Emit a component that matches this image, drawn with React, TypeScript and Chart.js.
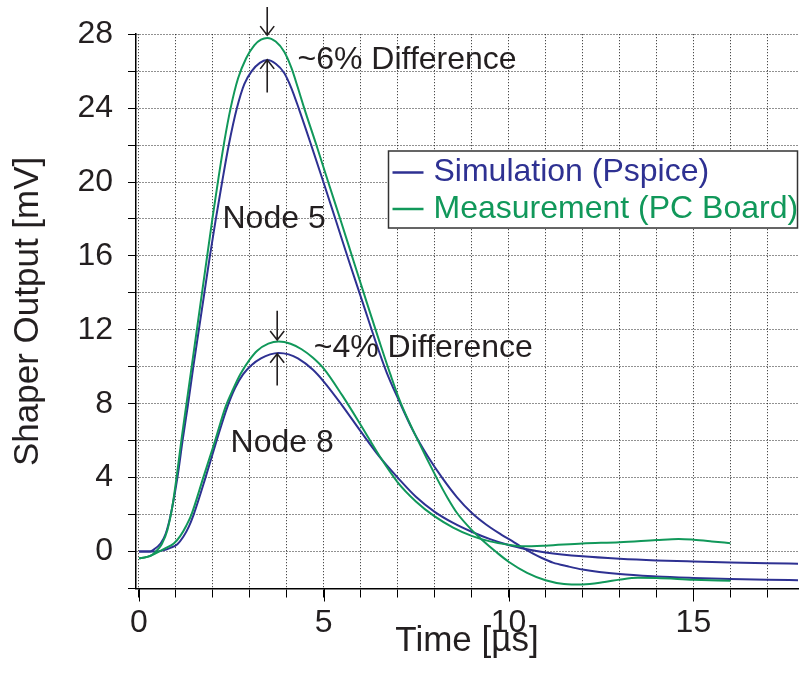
import React, { useEffect, useRef } from "react";
import { Chart, registerables } from "chart.js";

Chart.register(...registerables);

// ---------- data (time in µs, output in mV) ----------
const node5SimTime = [0, 0.3, 0.36, 0.59, 0.72, 0.86, 1.04, 1.18, 1.33, 1.47, 1.62, 1.77, 1.92, 2.08, 2.25, 2.43, 2.65, 2.85, 3.05, 3.27, 3.47, 3.7, 3.93, 4.12, 4.32, 4.66, 4.99, 5.33, 5.7, 6.05, 6.38, 6.7, 7.05, 7.4, 7.8, 8.2, 8.6, 9.0, 9.4, 9.8, 10.15, 10.4, 10.65, 10.9, 11.2, 11.6, 12.0, 13.0, 14.0, 15.0, 16.0, 17.0, 17.9];
const node5SimValue = [0, 0, 0.05, 0.45, 0.95, 2.0, 4.0, 6.0, 8.0, 10.0, 12.0, 14.0, 16.0, 18.0, 20.0, 22.0, 24.0, 25.3, 26.0, 26.45, 26.6, 26.4, 25.9, 25.1, 24.0, 22.0, 20.0, 17.9, 15.6, 13.5, 11.5, 9.7, 8.1, 6.6, 5.2, 4.0, 2.95, 2.1, 1.45, 0.92, 0.5, 0.18, -0.1, -0.35, -0.6, -0.8, -0.97, -1.22, -1.35, -1.43, -1.49, -1.53, -1.55];

const node5MeasTime = [0, 0.2, 0.36, 0.54, 0.63, 0.77, 0.9, 1.03, 1.16, 1.3, 1.44, 1.58, 1.72, 1.86, 2.0, 2.15, 2.31, 2.48, 2.68, 2.9, 3.12, 3.3, 3.47, 3.7, 3.93, 4.12, 4.3, 4.47, 4.8, 5.12, 5.46, 5.81, 6.16, 6.5, 6.8, 7.07, 7.55, 8.05, 8.35, 8.6, 9.0, 9.3, 9.65, 10.0, 10.5, 11.0, 11.5, 12.0, 12.6, 13.0, 13.5, 14.0, 15.0, 16.0];
const node5MeasValue = [-0.36, -0.3, -0.18, 0.18, 0.45, 1.17, 2.4, 4.2, 6.2, 8.2, 10.2, 12.2, 14.2, 16.2, 18.2, 20.2, 22.2, 24.0, 25.6, 26.7, 27.4, 27.7, 27.8, 27.6, 27.05, 26.2, 25.1, 24.0, 22.0, 20.0, 17.9, 15.7, 13.5, 11.4, 9.6, 8.1, 6.0, 4.0, 2.9, 2.1, 1.17, 0.6, 0.0, -0.55, -1.15, -1.55, -1.75, -1.78, -1.65, -1.52, -1.42, -1.43, -1.52, -1.58];

const node8SimTime = [0, 0.4, 0.63, 0.85, 1.04, 1.2, 1.35, 1.48, 1.8, 2.1, 2.39, 2.6, 2.82, 3.05, 3.3, 3.55, 3.78, 4.05, 4.3, 4.7, 5.0, 5.5, 6.0, 6.5, 7.0, 7.5, 8.0, 8.5, 9.0, 9.5, 10.0, 10.5, 11.0, 12.0, 13.0, 14.0, 15.0, 16.0, 17.0, 17.9];
const node8SimValue = [0, 0, 0.05, 0.2, 0.4, 0.8, 1.35, 2.0, 4.0, 6.0, 7.82, 8.85, 9.6, 10.1, 10.45, 10.67, 10.75, 10.67, 10.45, 9.85, 9.2, 7.9, 6.5, 5.15, 4.0, 2.95, 2.15, 1.55, 1.07, 0.67, 0.35, 0.12, -0.05, -0.26, -0.39, -0.48, -0.54, -0.59, -0.63, -0.66];

const node8MeasTime = [0, 0.2, 0.45, 0.72, 0.95, 1.12, 1.28, 1.42, 1.74, 2.06, 2.34, 2.55, 2.75, 3.0, 3.2, 3.5, 3.78, 4.1, 4.4, 4.7, 5.0, 5.5, 6.0, 6.5, 7.0, 7.5, 8.0, 8.5, 9.0, 9.5, 10.0, 10.4, 11.0, 12.0, 13.0, 14.0, 14.6, 15.0, 15.5, 16.0];
const node8MeasValue = [-0.36, -0.3, -0.1, 0.18, 0.45, 0.85, 1.4, 2.0, 4.0, 6.0, 7.82, 8.8, 9.62, 10.4, 10.87, 11.25, 11.37, 11.25, 10.95, 10.5, 9.9, 8.45, 6.85, 5.2, 3.75, 2.7, 1.9, 1.3, 0.85, 0.55, 0.37, 0.28, 0.32, 0.44, 0.5, 0.62, 0.68, 0.64, 0.55, 0.45];

const xTickValues = [0, 1, 2, 3, 4, 5, 6, 7, 8, 9, 10, 11, 12, 13, 14, 15, 16, 17];
const xLabelValues = [0, 5, 10, 15];
const yTickValues = [-2, 0, 2, 4, 6, 8, 10, 12, 14, 16, 18, 20, 22, 24, 26, 28];
const yLabelValues = [0, 4, 8, 12, 16, 20, 24, 28];

const legendLabels = ["Simulation (Pspice)", "Measurement (PC Board)"];

// annotations in data coordinates (time, value)
const annotationTexts = ["~6% Difference", "Node 5", "~4% Difference", "Node 8"];
const annotationTimes = [4.29, 2.26, 4.73, 2.48];
const annotationValues = [26.6, 18.0, 11.0, 5.84];
// arrows: time, tail value, tip value
const arrowTimes = [3.47, 3.47, 3.74, 3.74];
const arrowTails = [29.47, 24.84, 13.03, 8.99];
const arrowTips = [27.95, 26.61, 11.45, 10.7];

// ---------- styles ----------
const BLUE = "#2e3192";
const GREEN = "#11985a";
const TEXT = "#231f20";
const FONT = "'Liberation Sans', Arial, Helvetica, sans-serif";

const toPoints = (ts: number[], vs: number[]) => ts.map((t, i) => ({ x: t, y: vs[i] }));

const overlayPlugin = {
  id: "overlay",
  afterDraw(chart: any) {
    const ctx: CanvasRenderingContext2D = chart.ctx;
    const xs = chart.scales.x;
    const ys = chart.scales.y;
    const px = (t: number) => xs.getPixelForValue(t);
    const py = (v: number) => ys.getPixelForValue(v);
    ctx.save();
    // longer major ticks on time axis
    ctx.strokeStyle = "#000";
    ctx.lineWidth = 1;
    ctx.setLineDash([]);
    for (const v of xLabelValues) {
      const x = Math.round(px(v)) + 0.5;
      ctx.beginPath();
      ctx.moveTo(x, ys.bottom);
      ctx.lineTo(x, ys.bottom + 13);
      ctx.stroke();
    }
    // annotation texts
    ctx.font = `32px ${FONT}`;
    ctx.fillStyle = TEXT;
    ctx.textAlign = "left";
    ctx.textBaseline = "middle";
    annotationTexts.forEach((txt, i) => {
      ctx.fillText(txt, px(annotationTimes[i]), py(annotationValues[i]));
    });
    // arrows
    ctx.strokeStyle = TEXT;
    ctx.lineWidth = 1.6;
    arrowTimes.forEach((t, i) => {
      const x = px(t);
      const y0 = py(arrowTails[i]);
      const y1 = py(arrowTips[i]);
      const dir = y1 > y0 ? 1 : -1;
      ctx.beginPath();
      ctx.moveTo(x, y0);
      ctx.lineTo(x, y1);
      ctx.moveTo(x - 7, y1 - dir * 9);
      ctx.lineTo(x, y1);
      ctx.lineTo(x + 7, y1 - dir * 9);
      ctx.stroke();
    });
    // legend box
    const ca = chart.chartArea;
    const bx = ca.right - 409.5;
    const by = 151;
    const bw = 409;
    const bh = 77;
    ctx.fillStyle = "#fff";
    ctx.fillRect(bx, by, bw, bh);
    ctx.strokeStyle = "#333";
    ctx.lineWidth = 1.5;
    ctx.strokeRect(bx, by, bw, bh);
    const colors = [BLUE, GREEN];
    const rowY = [by + 21.5, by + 58];
    legendLabels.forEach((lab, i) => {
      ctx.strokeStyle = colors[i];
      ctx.lineWidth = 2.5;
      ctx.beginPath();
      ctx.moveTo(bx + 4, rowY[i]);
      ctx.lineTo(bx + 35, rowY[i]);
      ctx.stroke();
      ctx.fillStyle = colors[i];
      ctx.font = `32px ${FONT}`;
      ctx.textAlign = "left";
      ctx.textBaseline = "middle";
      ctx.fillText(lab, bx + 45, rowY[i]);
    });
    ctx.restore();
  },
};

export default function App() {
  const ref = useRef<HTMLCanvasElement | null>(null);
  useEffect(() => {
    if (!ref.current) return;
    const lineDs = (label: string, data: any, color: string) => ({
      label,
      data,
      borderColor: color,
      backgroundColor: color,
      borderWidth: 2,
      pointRadius: 0,
      fill: false,
      cubicInterpolationMode: "monotone" as const,
    });
    const chart = new Chart(ref.current, {
      type: "line",
      data: {
        datasets: [
          lineDs("Measurement Node 5", toPoints(node5MeasTime, node5MeasValue), GREEN),
          lineDs("Measurement Node 8", toPoints(node8MeasTime, node8MeasValue), GREEN),
          lineDs("Simulation Node 5", toPoints(node5SimTime, node5SimValue), BLUE),
          lineDs("Simulation Node 8", toPoints(node8SimTime, node8SimValue), BLUE),
        ],
      },
      options: {
        responsive: false,
        animation: false,
        devicePixelRatio: 1,
        parsing: false as any,
        layout: { padding: { top: 32, right: 1, left: 0, bottom: 0 } },
        plugins: { legend: { display: false }, tooltip: { enabled: false } },
        scales: {
          x: {
            type: "linear",
            min: -0.08,
            max: 17.83,
            afterBuildTicks: (s: any) => {
              s.ticks = xTickValues.map((v) => ({ value: v }));
            },
            afterFit: (s: any) => {
              s.height = 100.5;
            },
            ticks: {
              autoSkip: false,
              maxRotation: 0,
              padding: 6,
              color: TEXT,
              font: { size: 32, family: FONT },
              callback: (v: any) => (xLabelValues.includes(Number(v)) ? String(v) : ""),
            },
            grid: { color: "#222", lineWidth: 1, tickLength: 9, tickColor: "#000", tickBorderDash: [] } as any,
            border: { display: true, color: "#000", width: 1.5, dash: [1, 2] },
            title: {
              display: true,
              text: "Time [µs]",
              color: TEXT,
              font: { size: 35, family: FONT },
              padding: { top: 0, bottom: 27 },
            },
          },
          y: {
            type: "linear",
            min: -2,
            max: 28,
            afterBuildTicks: (s: any) => {
              s.ticks = yTickValues.map((v) => ({ value: v }));
            },
            afterFit: (s: any) => {
              s.width = 136;
            },
            ticks: {
              autoSkip: false,
              padding: 15,
              color: TEXT,
              font: { size: 32, family: FONT },
              callback: (v: any) => (yLabelValues.includes(Number(v)) ? String(v) : ""),
            },
            grid: { color: "#222", lineWidth: 1, tickLength: 8, tickColor: "#000", tickBorderDash: [] } as any,
            border: { display: true, color: "#000", width: 1.5, dash: [1, 2] },
            title: {
              display: true,
              text: "Shaper Output [mV]",
              color: TEXT,
              font: { size: 35, family: FONT },
              padding: { top: 7.5, bottom: 0 },
            },
          },
        },
      },
      plugins: [overlayPlugin],
    });
    return () => chart.destroy();
  }, []);
  return (
    <div style={{ position: "fixed", left: 0, top: 0, width: 799, height: 689, background: "#fff" }}>
      <canvas ref={ref} width={799} height={689} style={{ display: "block" }} />
    </div>
  );
}
